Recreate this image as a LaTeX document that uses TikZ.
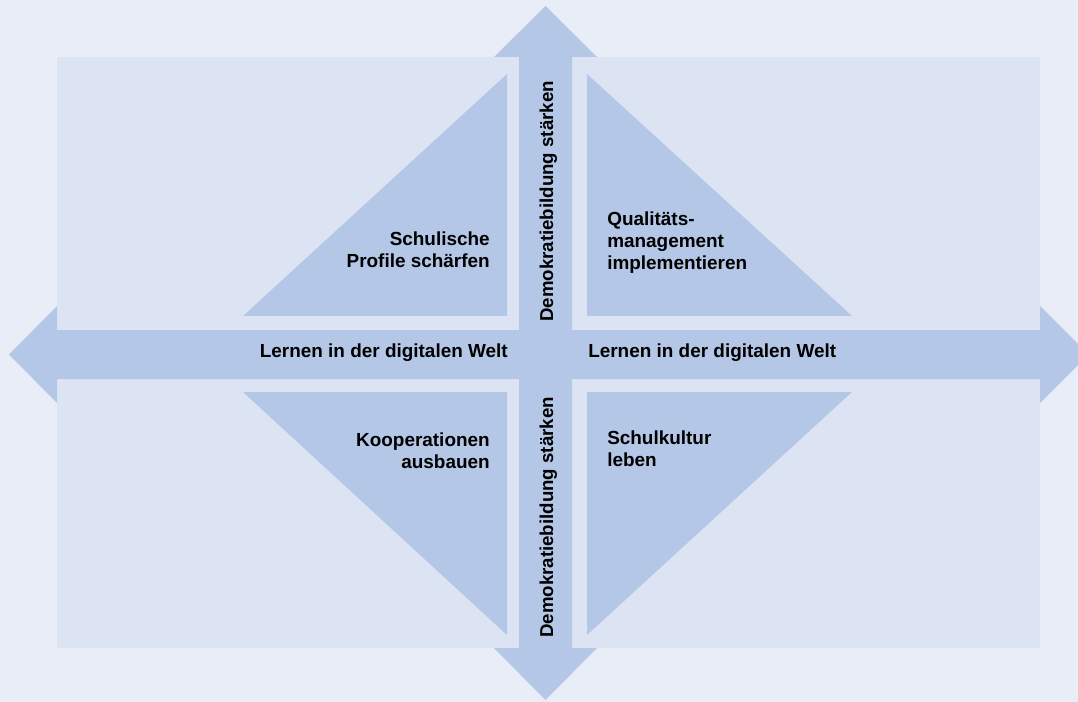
\documentclass[tikz,border=0pt]{standalone}
\usepackage[HTML]{xcolor}
\usepackage{fontspec}
\setmainfont{Liberation Sans}
\usepackage{tikz}
\usetikzlibrary{positioning}

\definecolor{bgcol}{HTML}{E9EDF7}
\definecolor{panelcol}{HTML}{DCE4F3}
\definecolor{arrowcol}{HTML}{B4C7E6}

\begin{document}
\begin{tikzpicture}[x=0.75pt, y=-0.75pt,
  label/.style={inner sep=0pt, font=\fontsize{14.2}{16.5}\selectfont\bfseries},
  axislabel/.style={label, font=\fontsize{14}{16.5}\selectfont\bfseries, rotate=90, anchor=base west}]
% Background and frame
\fill[bgcol] (0,0) rectangle (1078,702);
\useasboundingbox (0,0) rectangle (1078,702);
\fill[panelcol] (57,57) rectangle (1040,648);

% Horizontal double arrow
\fill[arrowcol]
  (9,354.5) -- (57,306) -- (57,330) -- (1040,330) -- (1040,306)
  -- (1088.5,354.5) -- (1040,403) -- (1040,379) -- (57,379) -- (57,403) -- cycle;
% Vertical double arrow
\fill[arrowcol]
  (545.5,6) -- (597,57) -- (572,57) -- (572,648) -- (597,648)
  -- (545.5,700) -- (494,648) -- (519,648) -- (519,57) -- (494,57) -- cycle;

% Triangles in the four fields
\fill[arrowcol] (243,316) -- (507,316) -- (507,74) -- cycle;
\fill[arrowcol] (587,74) -- (587,316) -- (852,316) -- cycle;
\fill[arrowcol] (243,392) -- (507,392) -- (507,635) -- cycle;
\fill[arrowcol] (587,392) -- (852,392) -- (587,635) -- cycle;

% Field labels
\node[label, anchor=north east, align=right] (profile) at (490,232) {Schulische\\Profile schärfen};
\node[label, anchor=north west, align=left] (quali) at (607,212) {Qualitäts-\\management\\implementieren};
\node[label, anchor=north east, align=right] (koop) at (490,433) {Kooperationen\\ausbauen};
\node[label, anchor=north west, align=left] (kultur) at (607,431) {Schulkultur\\leben};

% Axis labels
\node[label, anchor=base east] (lernenL) at (508,358) {Lernen in der digitalen Welt};
\node[label, anchor=base west] (lernenR) at (588,358) {Lernen in der digitalen Welt};
\node[axislabel] (demoO) at (553,322) {Demokratiebildung stärken};
\node[axislabel] (demoU) at (553,638) {Demokratiebildung stärken};
\end{tikzpicture}
\end{document}
